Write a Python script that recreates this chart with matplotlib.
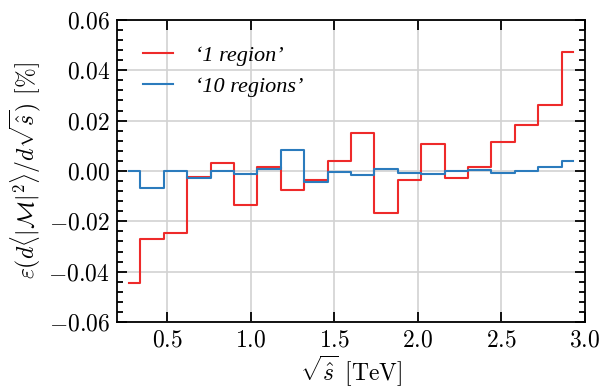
import numpy as np
import matplotlib
matplotlib.use("Agg")
import matplotlib.pyplot as plt
from matplotlib.ticker import MultipleLocator, FuncFormatter

# bin centres of sqrt(s-hat) [TeV]
centers = [0.27, 0.41, 0.55, 0.69, 0.83, 0.97, 1.11, 1.25, 1.39, 1.53,
           1.67, 1.81, 1.95, 2.09, 2.23, 2.37, 2.51, 2.65, 2.79, 2.93]
one_region = [-0.0446, -0.0272, -0.0248, -0.0022, 0.0030, -0.0135, 0.0017, -0.0077,
              -0.0037, 0.0040, 0.0152, -0.0165, -0.0037, 0.0108, -0.0029, 0.0017,
              0.0116, 0.0184, 0.0260, 0.0473]
ten_regions = [0.0000, -0.0066, 0.0000, -0.0029, 0.0000, -0.0013, 0.0009, 0.0085,
               -0.0044, -0.0006, -0.0015, 0.0009, -0.0008, -0.0013, -0.0001, 0.0003,
               -0.0007, 0.0000, 0.0017, 0.0038]
xticks = [0.5, 1.0, 1.5, 2.0, 2.5, 3.0]
yticks = [-0.06, -0.04, -0.02, 0.00, 0.02, 0.04, 0.06]

plt.rcParams['mathtext.fontset'] = 'cm'
plt.rcParams['font.family'] = ['cmr10', 'DejaVu Serif']
plt.rcParams['axes.unicode_minus'] = False
plt.rcParams['axes.formatter.use_mathtext'] = True

fig = plt.figure(figsize=(6.03, 3.89), dpi=100)
ax = fig.add_axes([0.194, 0.172, 0.776, 0.777])

ax.step(centers, one_region, where='mid', color='#ee2a2a', lw=1.5,
        label="\u20181 region\u2019")
ax.step(centers, ten_regions, where='mid', color='#2b7bbd', lw=1.5,
        label="\u201810 regions\u2019")

ax.set_xlim(0.2, 3.0)
ax.set_ylim(-0.06, 0.06)
ax.set_xticks(xticks)
ax.set_yticks(yticks)
ax.yaxis.set_minor_locator(MultipleLocator(0.004))
ax.xaxis.set_major_formatter(FuncFormatter(lambda v, p: r"$%.1f$" % v))
ax.yaxis.set_major_formatter(FuncFormatter(lambda v, p: r"$%.2f$" % (0.0 if abs(v) < 1e-9 else v)))

ax.tick_params(which='both', direction='in', top=True, right=True, labelsize=17, width=1.3)
ax.tick_params(which='major', length=7, pad=5)
ax.tick_params(which='minor', length=4.3)
for s in ax.spines.values():
    s.set_linewidth(1.3)

ax.grid(True, which='major', color='#d2d2d2', lw=1.2, ls='-')
ax.set_axisbelow(True)

ax.set_xlabel(r"$\sqrt{\hat{s}}$ [TeV]", fontsize=17, labelpad=2)
ax.set_ylabel(r"$\varepsilon(d\langle|\mathcal{M}|^2\rangle/d\sqrt{\hat{s}})$ [%]", fontsize=17, labelpad=4)

ax.legend(loc='upper left', frameon=False, handlelength=1.35,
          borderaxespad=0.75, labelspacing=0.45, handletextpad=1.0,
          bbox_to_anchor=(0.0, 1.0),
          prop=dict(family=['Liberation Serif'], style='italic', size=16))

fig.savefig("out.png", dpi=100)
